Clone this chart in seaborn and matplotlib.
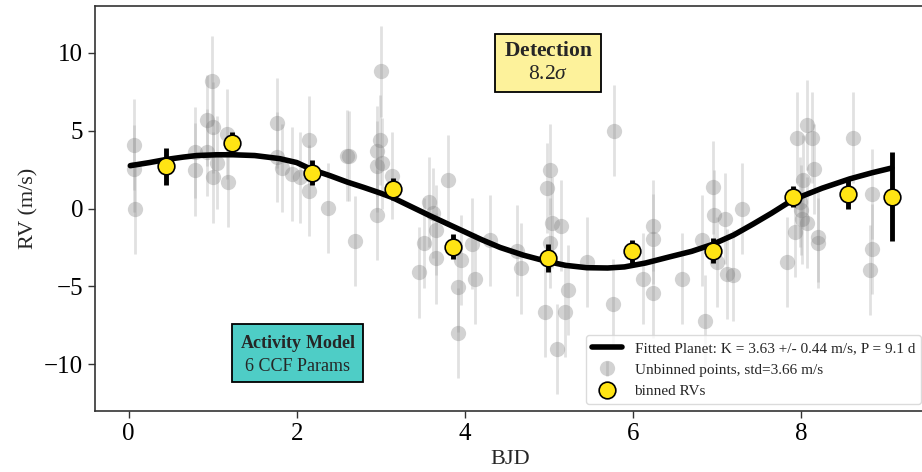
import matplotlib
matplotlib.use("Agg")
import matplotlib.pyplot as plt
import seaborn as sns

# phase-folded unbinned RVs (BJD, m/s)
t_unb = [0.06, 0.06, 0.08, 0.79, 0.79, 0.93, 0.99, 1.00, 0.93, 1.05,
         1.00, 1.17, 1.18, 1.76, 1.77, 1.82, 1.94, 2.04, 2.15, 2.15,
         2.37, 2.60, 2.62, 2.69, 3.00, 2.99, 2.95, 2.95, 3.02, 2.95,
         3.13, 3.80, 3.58, 3.62, 3.66, 3.52, 3.46, 3.66, 3.92, 3.92,
         3.96, 4.12, 4.08, 4.30, 4.62, 4.67, 5.04, 5.15, 5.01, 5.23,
         4.95, 5.19, 5.46, 5.76, 5.78, 5.01, 4.98, 5.10, 6.12, 6.24,
         6.58, 6.86, 7.12, 7.19, 7.83, 8.85, 8.82, 8.20, 6.24, 6.24,
         6.82, 6.96, 7.10, 7.00, 7.30, 7.93, 8.01, 8.07, 8.00, 6.95,
         7.95, 8.07, 8.13, 8.15, 8.02, 7.99, 8.62, 8.85, 8.20]
rv_unb = [4.10, 2.55, -0.05, 3.60, 2.50, 5.65, 8.20, 5.20, 3.60, 2.95,
          2.00, 4.80, 1.70, 5.50, 3.30, 2.60, 2.20, 2.00, 4.40, 1.15,
          0.05, 3.40, 3.35, -2.10, 8.80, 4.40, 3.70, 2.70, 2.90, -0.40,
          2.10, 1.80, 0.40, -0.30, -1.40, -2.20, -4.10, -3.20, -5.05, -8.00,
          -3.30, -4.50, -2.25, -2.05, -2.70, -3.85, -0.90, -1.10, -2.20, -5.25,
          -6.65, -6.65, -3.45, -6.15, 5.00, 2.50, 1.30, -9.00, -4.50, -5.40,
          -4.50, -7.20, -4.20, -4.30, -3.45, -2.60, -3.95, -2.20, -1.10, -1.95,
          -2.05, -0.40, -0.65, -3.45, 0.00, -1.50, -0.65, -0.90, -0.10, 1.35,
          4.55, 5.35, 4.55, 2.55, 1.80, 0.40, 4.55, 0.95, -1.85]
err_unb = [2.9, 2.8, 2.9, 2.9, 3.0, 2.9, 2.9, 2.9, 2.8, 3.0,
           2.9, 2.9, 2.9, 2.9, 2.9, 2.8, 3.0, 2.9, 2.8, 2.9,
           2.9, 2.9, 2.9, 2.9, 2.9, 2.9, 2.9, 2.9, 2.9, 2.9,
           2.8, 2.9, 2.9, 2.9, 2.9, 2.9, 2.9, 2.9, 2.9, 2.9,
           2.9, 2.9, 2.9, 2.9, 2.9, 2.9, 2.9, 2.9, 2.9, 2.9,
           2.9, 2.9, 2.9, 2.9, 2.9, 2.9, 2.9, 2.9, 2.9, 2.9,
           2.9, 2.9, 2.9, 2.9, 2.9, 2.9, 2.9, 2.9, 2.9, 2.9,
           2.9, 2.9, 2.9, 2.9, 2.9, 2.9, 2.9, 2.9, 2.9, 3.0,
           2.9, 2.9, 2.9, 2.9, 2.9, 2.9, 2.9, 2.9, 2.9]

# binned RVs
t_bin = [0.45, 1.23, 2.18, 3.14, 3.86, 4.99, 5.99, 6.95, 7.90, 8.56, 9.08]
rv_bin = [2.7, 4.2, 2.3, 1.25, -2.45, -3.2, -2.75, -2.7, 0.77, 0.9, 0.77]
err_bin = [1.2, 0.7, 0.8, 0.7, 0.8, 0.9, 0.75, 0.8, 0.7, 0.9, 2.85]

# fitted planet curve
t_fit = [0.02, 0.25, 0.45, 0.65, 0.81, 1.05, 1.24, 1.50, 1.80, 2.00, 2.18,
         2.40, 2.60, 2.80, 2.99, 3.14, 3.35, 3.58, 3.78, 3.98, 4.20, 4.42,
         4.70, 4.98, 5.20, 5.45, 5.70, 5.90, 6.15, 6.44, 6.70, 6.95, 7.20,
         7.43, 7.65, 7.90, 8.25, 8.58, 8.85, 9.08]
rv_fit = [2.75, 2.95, 3.15, 3.3, 3.4, 3.45, 3.45, 3.4, 3.2, 2.95, 2.5,
          2.1, 1.7, 1.35, 1.0, 0.7, 0.15, -0.45, -0.95, -1.45, -2.0, -2.5,
          -3.0, -3.4, -3.65, -3.8, -3.82, -3.75, -3.5, -3.1, -2.75, -2.3, -1.7,
          -1.0, -0.3, 0.55, 1.3, 1.9, 2.3, 2.6]

sns.set_theme(style="ticks")
plt.rcParams["font.family"] = ["Liberation Serif", "DejaVu Serif"]
plt.rcParams["mathtext.fontset"] = "custom"
plt.rcParams["mathtext.rm"] = "Liberation Serif"
plt.rcParams["mathtext.it"] = "Liberation Serif:italic"
plt.rcParams["mathtext.bf"] = "Liberation Serif:bold"
plt.rcParams["axes.edgecolor"] = "#333333"
plt.rcParams["axes.linewidth"] = 1.2

fig = plt.figure(figsize=(9.22, 4.72), dpi=100)
ax = fig.add_axes([95 / 922, 61 / 472, 829.5 / 922, 405 / 472])

sns.lineplot(x=t_fit, y=rv_fit, color="black", lw=4, sort=False, ax=ax,
             label="Fitted Planet: K = 3.63 +/- 0.44 m/s, P = 9.1 d", zorder=4)

ax.errorbar(t_unb, rv_unb, yerr=err_unb, fmt="o", color="grey", ecolor="darkgrey",
            alpha=0.35, ms=11, mew=0, elinewidth=2, zorder=2,
            label="Unbinned points, std=3.66 m/s")

ax.errorbar(t_bin, rv_bin, yerr=err_bin, fmt="o", mfc="#ffe414", mec="black",
            mew=1.2, ms=12, ecolor="black", elinewidth=3.5, zorder=5,
            label="binned RVs")

ax.set_xlim(-0.40, 9.47)
ax.set_ylim(-13, 13)
ax.set_xticks([0, 2, 4, 6, 8])
ax.set_yticks([-10, -5, 0, 5, 10])
ax.tick_params(labelsize=18, length=5, width=1, colors="#333333", labelcolor="black")
ax.set_xlabel("BJD", fontsize=16)
ax.set_ylabel("RV (m/s)", fontsize=16)

ax.text(4.99, 9.35, r"$\mathbf{Detection}$" + "\n" + r"8.2$\sigma$", fontsize=15.5,
        ha="center", va="center", linespacing=1.25,
        bbox=dict(boxstyle="square,pad=0.38", fc="#fdf29b", ec="black", lw=1.3))
ax.text(2.01, -9.35, r"$\mathbf{Activity\ Model}$" + "\n6 CCF Params", fontsize=13,
        ha="center", va="center", linespacing=1.3,
        bbox=dict(boxstyle="square,pad=0.4", fc="#4ecdc6", ec="black", lw=1.3))

ax.legend(loc="lower right", bbox_to_anchor=(921 / 922, 68 / 472),
          bbox_transform=fig.transFigure, borderaxespad=0, fontsize=11,
          frameon=True, fancybox=True, framealpha=0.8, edgecolor="lightgrey")

fig.savefig("out.png", dpi=100)
